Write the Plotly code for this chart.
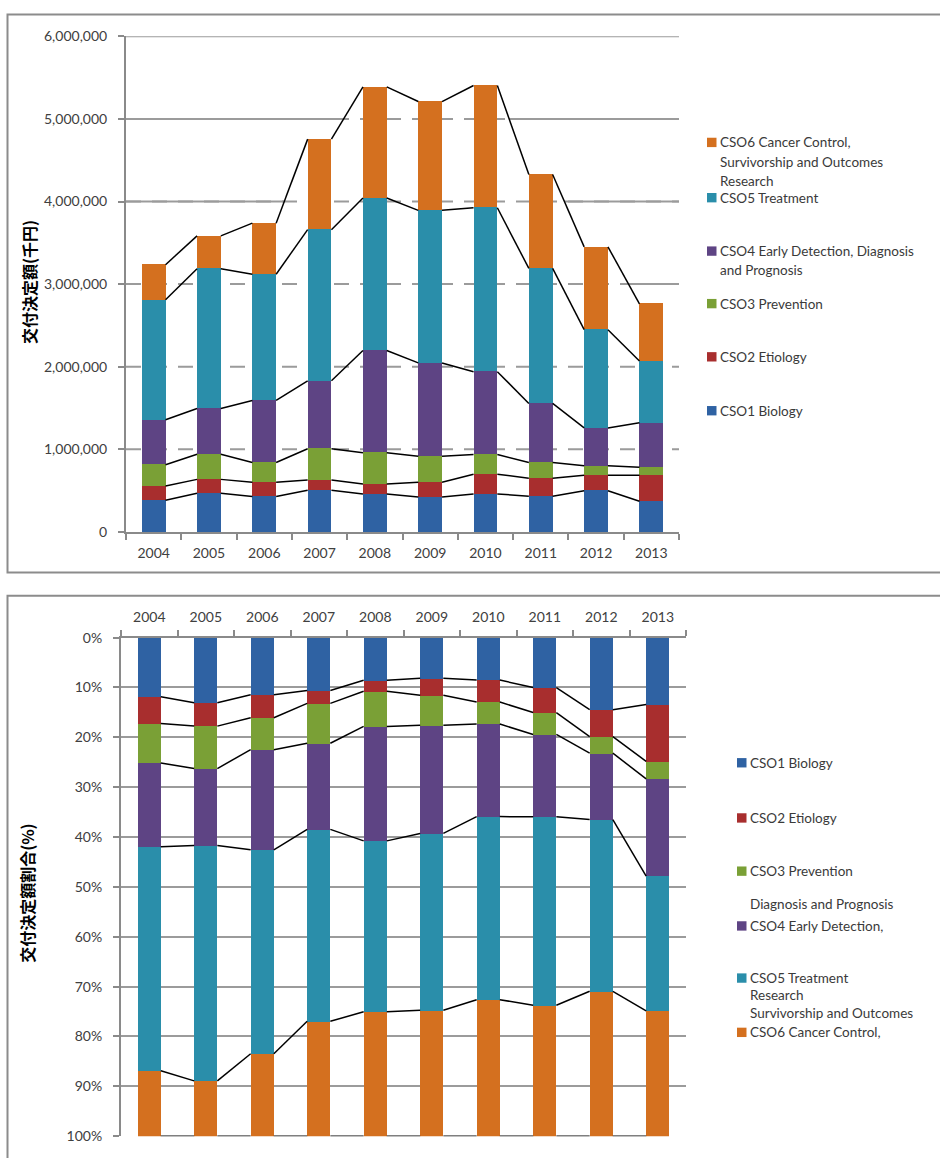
import plotly.graph_objects as go

# ---------------- data (thousand yen) ----------------
years = ["2004", "2005", "2006", "2007", "2008", "2009", "2010", "2011", "2012", "2013"]
cso1_biology = [384000, 468000, 429000, 504000, 460000, 424000, 460000, 433000, 499000, 371000]
cso2_etiology = [173000, 168000, 172000, 123000, 119000, 177000, 238000, 217000, 186000, 314000]
cso3_prevention = [256000, 305000, 239000, 380000, 380000, 314000, 239000, 190000, 115000, 97000]
cso4_early_detection = [544000, 553000, 751000, 822000, 1237000, 1131000, 1003000, 715000, 459000, 539000]
cso5_treatment = [1453000, 1692000, 1529000, 1830000, 1847000, 1847000, 1984000, 1635000, 1189000, 747000]
cso6_cancer_control = [425000, 398000, 618000, 1096000, 1344000, 1317000, 1480000, 1136000, 1003000, 694000]

series_names = ["CSO1 Biology", "CSO2 Etiology", "CSO3 Prevention",
                "CSO4 Early Detection, Diagnosis and Prognosis", "CSO5 Treatment",
                "CSO6 Cancer Control, Survivorship and Outcomes Research"]
y_ticks_top = [0, 1000000, 2000000, 3000000, 4000000, 5000000, 6000000]
y_ticks_bottom = [0, 10, 20, 30, 40, 50, 60, 70, 80, 90, 100]
y_ticktext_bottom = ["0%", "10%", "20%", "30%", "40%", "50%", "60%", "70%", "80%", "90%", "100%"]

# ---------------- styling ----------------
W, H = 940, 1158
colors = ["#2f62a3", "#a82e2e", "#7aa036", "#5e4484", "#2a8eaa", "#d4701f"]
grid_col = "#9b9b9b"
axis_col = "#8a8a8a"
tick_font = dict(family="Lato", size=14, color="#404040")
series = [cso1_biology, cso2_etiology, cso3_prevention, cso4_early_detection,
          cso5_treatment, cso6_cancer_control]

def px_x(p):
    return p / W

def px_y(p):
    return 1 - p / H

n = len(years)
xs = list(range(n))
bw_top = 0.43
bw_bot = 0.41

# cumulative levels
cum = []
run = [0] * n
for s in series:
    run = [a + b for a, b in zip(run, s)]
    cum.append(run)
totals = cum[-1]
pct_series = [[v / t * 100 for v, t in zip(s, totals)] for s in series]
cum_pct = [[c / t * 100 for c, t in zip(level, totals)] for level in cum]

fig = go.Figure()

# top chart bars
for name, s, c in zip(series_names, series, colors):
    fig.add_trace(go.Bar(x=xs, y=s, width=bw_top, name=name, marker=dict(color=c, line=dict(width=0)),
                         xaxis="x", yaxis="y", showlegend=False))
# bottom chart bars
for name, s, c in zip(series_names, pct_series, colors):
    fig.add_trace(go.Bar(x=xs, y=s, width=bw_bot, name=name, marker=dict(color=c, line=dict(width=0)),
                         xaxis="x2", yaxis="y2", showlegend=False))

def series_lines(levels, w, xa, ya):
    for level in levels:
        lx, ly = [], []
        for i in range(n - 1):
            lx += [i + w / 2, i + 1 - w / 2, None]
            ly += [level[i], level[i + 1], None]
        fig.add_trace(go.Scatter(x=lx, y=ly, mode="lines", line=dict(color="black", width=1.5),
                                 xaxis=xa, yaxis=ya, showlegend=False, hoverinfo="skip",
                                 connectgaps=False))

series_lines(cum, bw_top, "x", "y")
series_lines(cum_pct, bw_bot, "x2", "y2")

shapes = []
# top chart gridlines: solid, then white area under envelope, then dashed
for v in y_ticks_top[1:]:
    shapes.append(dict(type="line", xref="x", yref="y", x0=-0.5, x1=n - 0.5, y0=v, y1=v,
                       line=dict(color=grid_col, width=2), layer="below"))
path = f"M -0.5,0 L -0.5,{totals[0]}"
for i in range(n):
    path += f" L {i - bw_top / 2},{totals[i]} L {i + bw_top / 2},{totals[i]}"
path += f" L {n - 0.5},{totals[-1]} L {n - 0.5},0 Z"
shapes.append(dict(type="path", xref="x", yref="y", path=path, fillcolor="white",
                   line=dict(width=0), layer="below"))
for v in y_ticks_top[1:-1]:
    shapes.append(dict(type="line", xref="x", yref="y", x0=-0.5, x1=n - 0.5, y0=v, y1=v,
                       line=dict(color=grid_col, width=2, dash="15px,11px"), layer="below"))

# panel frames
shapes.append(dict(type="rect", xref="paper", yref="paper", x0=px_x(7.5), x1=px_x(960),
                   y0=px_y(572), y1=px_y(5.5), line=dict(color="#8c8c8c", width=2), layer="below"))
shapes.append(dict(type="rect", xref="paper", yref="paper", x0=px_x(7.5), x1=px_x(960),
                   y0=px_y(1180), y1=px_y(595.5), line=dict(color="#8c8c8c", width=2), layer="below"))

annotations = []
legend_font = dict(family="Lato", size=13.5, color="#3a3a3a")

# legend entries: (color index, [(text, y_px), ...])
top_legend = [
    (5, [("CSO6 Cancer Control,", 135.4), ("Survivorship and Outcomes", 155.5), ("Research", 174.5)]),
    (4, [("CSO5 Treatment", 191.5)]),
    (3, [("CSO4 Early Detection, Diagnosis", 245.7), ("and Prognosis", 265.3)]),
    (2, [("CSO3 Prevention", 299)]),
    (1, [("CSO2 Etiology", 353)]),
    (0, [("CSO1 Biology", 407.7)]),
]
bottom_legend = [
    (0, [("CSO1 Biology", 765)]),
    (1, [("CSO2 Etiology", 821)]),
    (2, [("CSO3 Prevention", 875)]),
    (3, [("CSO4 Early Detection,", 930.6), ("Diagnosis and Prognosis", 908.7)]),
    (4, [("CSO5 Treatment", 983.5)]),
    (5, [("CSO6 Cancer Control,", 1038.6), ("Survivorship and Outcomes", 1019.4), ("Research", 1000.5)]),
]

def add_legend(items, sw_x, tx_x):
    for ci, lines in items:
        sy = lines[0][1]
        shapes.append(dict(type="rect", xref="paper", yref="paper", x0=px_x(sw_x), x1=px_x(sw_x + 9.5),
                           y0=px_y(sy + 4.75), y1=px_y(sy - 4.75), fillcolor=colors[ci],
                           line=dict(width=0)))
        for txt, ly in lines:
            annotations.append(dict(text=txt, xref="paper", yref="paper", x=px_x(tx_x), y=px_y(ly),
                                    xanchor="left", yanchor="middle", showarrow=False,
                                    font=legend_font, borderpad=0))

add_legend(top_legend, 707, 719)
add_legend(bottom_legend, 737, 749)

# axis titles
annotations.append(dict(text="交付決定額(千円)", xref="paper", yref="paper", x=px_x(29), y=px_y(277),
                        textangle=-90, showarrow=False, xanchor="center", yanchor="middle",
                        font=dict(family="Noto Sans CJK JP", size=16, color="black", weight="bold")))
annotations.append(dict(text="交付決定額割合(%)", xref="paper", yref="paper", x=px_x(27), y=px_y(897),
                        textangle=-90, showarrow=False, xanchor="center", yanchor="middle",
                        font=dict(family="Noto Sans CJK JP", size=16, color="black", weight="bold")))

bound_ticks = [i - 0.5 for i in range(n + 1)]

fig.update_layout(
    width=W, height=H, margin=dict(l=0, r=0, t=0, b=0),
    paper_bgcolor="white", plot_bgcolor="white",
    barmode="stack", bargap=0,
    font=tick_font,
    shapes=shapes, annotations=annotations,
    xaxis=dict(domain=[px_x(126), px_x(679)], range=[-0.5, n - 0.5], anchor="y",
               tickmode="array", tickvals=xs, ticktext=years, ticks="", showgrid=False,
               showline=True, linecolor=axis_col, linewidth=2, zeroline=False,
               ticklabelstandoff=7, tickfont=tick_font,
               minor=dict(tickmode="array", tickvals=bound_ticks, ticks="outside", ticklen=6,
                          tickcolor=axis_col, tickwidth=1.5, showgrid=False)),
    yaxis=dict(domain=[px_y(530.7), px_y(27.7)], range=[0, 6000000], anchor="x",
               tickmode="array", tickvals=y_ticks_top, tickformat=",d", showgrid=False,
               showline=True, linecolor=axis_col, linewidth=2, zeroline=False,
               ticks="outside", ticklen=6, tickcolor=axis_col, tickwidth=1.5,
               ticklabelstandoff=8, tickfont=tick_font),
    xaxis2=dict(domain=[px_x(121), px_x(686)], range=[-0.5, n - 0.5], anchor="y2", side="top",
                tickmode="array", tickvals=xs, ticktext=years, ticks="", showgrid=False,
                showline=True, linecolor=axis_col, linewidth=2, zeroline=False,
                ticklabelstandoff=8, tickfont=tick_font,
                minor=dict(tickmode="array", tickvals=bound_ticks, ticks="outside", ticklen=6,
                           tickcolor=axis_col, tickwidth=1.5, showgrid=False)),
    yaxis2=dict(domain=[px_y(1144), px_y(638)], range=[100, 0], anchor="x2",
                tickmode="array", tickvals=y_ticks_bottom, ticktext=y_ticktext_bottom, showgrid=True,
                gridcolor=grid_col, gridwidth=2,
                showline=True, linecolor=axis_col, linewidth=2, zeroline=False,
                ticks="outside", ticklen=6, tickcolor=axis_col, tickwidth=1.5,
                ticklabelstandoff=8, tickfont=tick_font),
)

fig.write_html("out.html")
